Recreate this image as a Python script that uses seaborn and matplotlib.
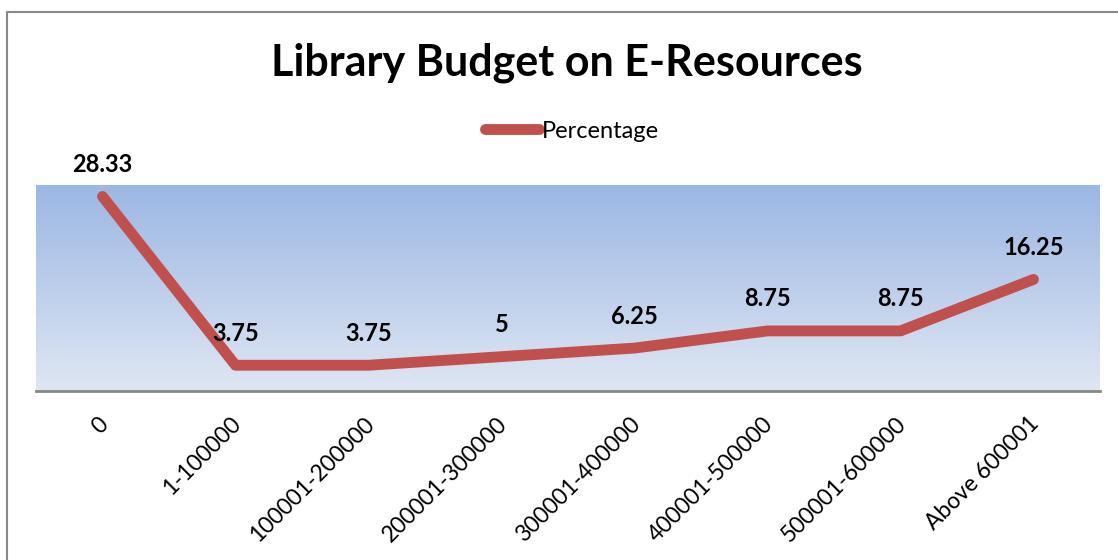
import numpy as np
import pandas as pd
import matplotlib
matplotlib.use("Agg")
import matplotlib.pyplot as plt
import matplotlib.transforms as mtransforms
import seaborn as sns
from matplotlib.colors import LinearSegmentedColormap
from matplotlib.lines import Line2D

categories = ["0", "1-100000", "100001-200000", "200001-300000", "300001-400000",
              "400001-500000", "500001-600000", "Above 600001"]
percentage = [28.33, 3.75, 3.75, 5, 6.25, 8.75, 8.75, 16.25]
labels = ["28.33", "3.75", "3.75", "5", "6.25", "8.75", "8.75", "16.25"]

sns.set_style("white")
plt.rcParams['font.family'] = ['Lato', 'DejaVu Sans']
plt.rcParams['text.color'] = 'black'

df = pd.DataFrame({"Budget": categories, "Percentage": percentage})

fig = plt.figure(figsize=(11.18, 5.6), dpi=100)
ax = fig.add_axes([36/1118, 1-391/560, 1064/1118, 206/560])

# gradient background
cmap = LinearSegmentedColormap.from_list("g", ["#DFE6F3", "#9BB7E3"])
grad = np.linspace(0, 1, 256).reshape(-1, 1)
ax.imshow(grad, cmap=cmap, aspect='auto', origin='lower',
          extent=[0, 1, 0, 1], transform=ax.transAxes, zorder=0)

line_color = "#C0504D"
sns.lineplot(data=df, x="Budget", y="Percentage", ax=ax, sort=False,
             color=line_color, linewidth=7.8, solid_capstyle='round',
             solid_joinstyle='round', zorder=3, label="Percentage", legend=False)

ax.set_xlim(-0.5, len(categories) - 0.5)
ax.set_ylim(0, 30)
ax.set_xlabel("")
ax.set_ylabel("")
ax.set_yticks([])
ax.set_xticks(range(len(categories)))
ax.set_xticklabels(categories, rotation=45, ha='right', rotation_mode='anchor',
                   fontsize=16.5, color="#000000")
ax.tick_params(axis='x', length=0, pad=16)
shift = mtransforms.ScaledTranslation(-5/100, 0, fig.dpi_scale_trans)
for lab in ax.get_xticklabels():
    lab.set_transform(lab.get_transform() + shift)
for s in ["top", "right", "left"]:
    ax.spines[s].set_visible(False)
ax.spines["bottom"].set_color("#868686")
ax.spines["bottom"].set_linewidth(2)
ax.spines["bottom"].set_zorder(4)

for i, (v, t) in enumerate(zip(percentage, labels)):
    ax.annotate(t, (i, v), xytext=(0, 32), textcoords='offset pixels',
                ha='center', va='center', fontsize=17, fontweight='bold',
                color='black', zorder=5, annotation_clip=False)

fig.text(567/1118, 1-63/560, "Library Budget on E-Resources", ha='center', va='center',
         fontsize=31, fontweight='bold', color='black')

handle = Line2D([0], [0], color=line_color, linewidth=7.8, solid_capstyle='round')
leg = fig.legend([handle], ["Percentage"], loc='center', bbox_to_anchor=(572/1118, 1-131/560),
                 frameon=False, fontsize=17, handlelength=2.3, handletextpad=0.1)
for t in leg.get_texts():
    t.set_color('black')

# outer frame
fig.add_artist(Line2D([7/1118, 7/1118, 1.0], [0, 1-12/560, 1-12/560],
                      transform=fig.transFigure, color="#888888", linewidth=1.5))

fig.savefig("out.png", dpi=100)
